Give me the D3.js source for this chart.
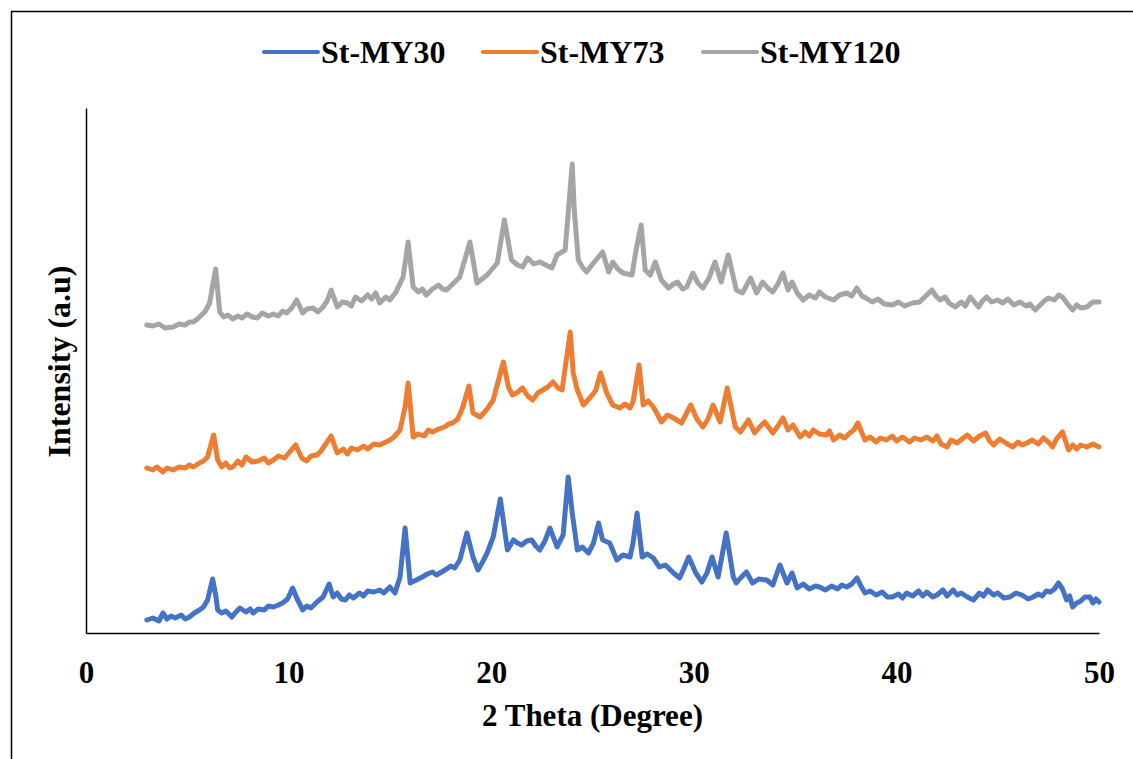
<!DOCTYPE html>
<html>
<head>
<meta charset="utf-8">
<script src="https://cdn.jsdelivr.net/npm/d3@7"></script>
<style>
  body { margin: 0; background: #fff; }
  text { font-family: "Liberation Serif", "Times New Roman", serif; font-weight: bold; }
</style>
</head>
<body>
<svg id="grafica"></svg>
<script>
// Difractogramas XRD de tres muestras (unidades arbitrarias)

const svg_w = 1133;
const svg_h = 759;
const margin = {l:86, r:34, t:108, b:126};
const viz_w = svg_w - margin.l - margin.r;
const viz_h = svg_h - margin.t - margin.b;

const series_names = ["St-MY30", "St-MY73", "St-MY120"];
const series_colors = ["#4472C4", "#ED7D31", "#A5A5A5"];
const x_ticks = [0, 10, 20, 30, 40, 50];

// [2theta, intensidad]
const st_my30 = [
  [3.0,13],[3.3,15],[3.6,12],[3.8,20],[4.0,14],[4.2,17],[4.4,15],[4.7,18],[4.9,14],[5.1,16],
  [5.35,20],[5.6,23],[5.8,26],[6.0,33],[6.25,54],[6.4,38],[6.5,23],[6.7,20],[6.9,22],[7.2,16],
  [7.4,21],[7.6,25],[7.9,21],[8.1,24],[8.25,20],[8.5,24],[8.8,23],[9.0,27],[9.25,26],[9.5,28],
  [9.7,30],[9.95,34],[10.2,45],[10.4,35],[10.7,23],[10.9,27],[11.1,25],[11.4,31],[11.7,36],[12.0,49],
  [12.2,36],[12.4,40],[12.6,34],[12.8,33],[13.0,38],[13.2,35],[13.5,40],[13.7,37],[13.9,42],[14.2,41],
  [14.5,43],[14.7,40],[15.0,46],[15.25,40],[15.5,56],[15.75,105],[16.0,50],[16.3,53],[16.6,56],[16.85,59],
  [17.1,61],[17.3,58],[17.55,61],[17.8,64],[18.0,67],[18.2,65],[18.45,73],[18.8,100],[19.1,76],[19.35,63],
  [19.6,72],[19.8,80],[20.1,96],[20.45,134],[20.8,83],[21.1,93],[21.3,90],[21.5,88],[21.75,92],[22.0,93],
  [22.2,87],[22.4,83],[22.65,92],[22.9,105],[23.25,86],[23.55,98],[23.8,156],[24.0,120],[24.25,83],[24.5,86],
  [24.8,80],[25.05,90],[25.3,110],[25.5,93],[25.85,90],[26.2,73],[26.5,78],[26.85,76],[27.0,90],[27.2,120],
  [27.45,76],[27.7,79],[28.0,75],[28.3,66],[28.6,68],[29.0,60],[29.3,55],[29.5,64],[29.75,76],[30.1,60],
  [30.4,51],[30.65,60],[30.9,76],[31.2,56],[31.6,100],[31.95,56],[32.1,50],[32.35,56],[32.6,61],[32.9,50],
  [33.2,54],[33.6,53],[33.9,48],[34.25,68],[34.6,50],[34.85,60],[35.1,45],[35.4,49],[35.7,44],[36.0,47],
  [36.2,46],[36.5,43],[36.8,47],[37.1,44],[37.3,48],[37.55,46],[37.8,49],[38.05,55],[38.25,47],[38.45,40],
  [38.7,42],[39.0,38],[39.3,41],[39.55,36],[39.8,36],[40.1,39],[40.3,35],[40.5,40],[40.8,37],[41.1,42],
  [41.3,37],[41.5,41],[41.8,36],[42.0,38],[42.3,43],[42.5,37],[42.8,43],[43.0,38],[43.2,40],[43.5,36],
  [43.8,33],[44.1,40],[44.3,37],[44.5,43],[44.8,38],[45.0,40],[45.3,35],[45.6,36],[45.9,40],[46.2,38],
  [46.5,34],[46.75,36],[47.0,39],[47.2,37],[47.4,42],[47.6,41],[47.8,44],[48.0,50],[48.2,44],[48.4,33],
  [48.55,37],[48.7,26],[48.9,30],[49.1,32],[49.3,36],[49.55,36],[49.7,30],[49.85,34],[50.0,31]
];

const st_my73 = [
  [3.0,165],[3.3,163],[3.5,166],[3.8,161],[4.0,165],[4.3,163],[4.6,166],[4.9,165],[5.1,168],[5.3,166],
  [5.6,170],[5.8,172],[6.0,176],[6.3,198],[6.5,173],[6.7,166],[6.9,170],[7.1,165],[7.25,166],[7.5,172],
  [7.7,168],[7.9,176],[8.2,171],[8.5,172],[8.8,175],[9.0,170],[9.25,173],[9.5,177],[9.8,175],[10.05,181],
  [10.35,188],[10.65,175],[10.9,172],[11.1,177],[11.4,178],[11.6,182],[11.8,188],[12.1,197],[12.4,180],[12.7,184],
  [12.9,179],[13.1,185],[13.4,183],[13.7,187],[13.9,184],[14.2,189],[14.5,188],[14.8,191],[15.0,193],[15.2,196],
  [15.5,203],[15.75,226],[15.9,250],[16.15,196],[16.4,199],[16.7,197],[16.9,203],[17.1,201],[17.4,204],[17.7,206],
  [17.9,209],[18.1,210],[18.35,214],[18.6,226],[18.9,247],[19.1,220],[19.45,216],[19.8,224],[20.1,233],[20.6,271],
  [20.85,246],[21.05,238],[21.25,240],[21.55,245],[21.8,237],[22.05,233],[22.3,240],[22.55,243],[22.8,246],[23.05,251],
  [23.3,245],[23.5,243],[23.9,301],[24.05,260],[24.25,243],[24.55,228],[24.9,236],[25.15,242],[25.4,260],[25.7,240],
  [26.0,228],[26.35,225],[26.6,229],[26.85,225],[27.0,231],[27.3,268],[27.5,228],[27.75,232],[28.0,226],[28.2,219],
  [28.4,211],[28.7,218],[29.0,215],[29.4,210],[29.85,228],[30.15,214],[30.45,206],[30.7,214],[30.95,228],[31.3,211],
  [31.65,245],[32.05,206],[32.3,201],[32.7,213],[33.0,200],[33.25,206],[33.5,211],[33.9,200],[34.15,207],[34.4,215],
  [34.65,203],[34.9,208],[35.25,196],[35.5,201],[35.7,197],[35.9,203],[36.2,199],[36.55,198],[36.7,202],[36.9,193],
  [37.2,198],[37.45,195],[37.7,200],[37.9,203],[38.1,210],[38.3,200],[38.45,193],[38.7,196],[39.0,191],[39.2,195],
  [39.5,193],[39.8,197],[40.0,192],[40.3,196],[40.65,191],[40.9,195],[41.2,193],[41.5,196],[41.8,192],[42.0,197],
  [42.2,189],[42.5,186],[42.7,193],[43.0,190],[43.3,195],[43.5,198],[43.8,192],[44.1,197],[44.4,200],[44.6,192],
  [44.8,188],[45.1,194],[45.4,190],[45.75,186],[46.0,191],[46.2,188],[46.45,190],[46.7,193],[47.0,189],[47.25,195],
  [47.5,191],[47.7,186],[47.9,194],[48.2,201],[48.35,192],[48.5,183],[48.7,188],[48.9,184],[49.1,188],[49.4,186],
  [49.7,189],[50.0,186]
];

const st_my120 = [
  [3.0,308],[3.3,307],[3.6,309],[3.9,305],[4.3,306],[4.6,309],[4.9,308],[5.1,311],[5.3,311],[5.5,314],
  [5.7,318],[5.9,322],[6.1,330],[6.4,364],[6.6,321],[6.8,316],[7.0,318],[7.25,314],[7.5,317],[7.7,315],
  [7.95,319],[8.2,316],[8.45,315],[8.7,320],[9.0,317],[9.25,319],[9.5,317],[9.7,322],[9.9,320],[10.15,325],
  [10.4,333],[10.7,320],[10.9,324],[11.2,325],[11.45,321],[11.7,326],[11.9,332],[12.1,343],[12.4,326],[12.65,331],
  [12.9,330],[13.1,327],[13.3,336],[13.6,332],[13.9,338],[14.1,334],[14.3,340],[14.5,330],[14.8,336],[15.0,333],
  [15.3,341],[15.65,356],[15.9,391],[16.15,346],[16.4,341],[16.6,344],[16.8,338],[17.1,344],[17.4,348],[17.6,344],
  [17.8,343],[18.1,349],[18.45,356],[18.95,391],[19.3,350],[19.55,354],[19.8,358],[20.3,370],[20.65,413],[21.0,373],
  [21.3,368],[21.55,366],[21.8,375],[22.1,369],[22.4,371],[22.7,368],[23.0,365],[23.25,378],[23.65,383],[24.0,469],
  [24.1,423],[24.3,373],[24.5,366],[24.7,361],[25.05,370],[25.5,381],[25.8,361],[26.0,371],[26.25,364],[26.5,360],
  [26.95,358],[27.15,383],[27.4,408],[27.6,363],[27.85,358],[28.1,371],[28.4,353],[28.75,345],[29.0,349],[29.2,351],
  [29.45,344],[29.65,346],[29.95,360],[30.2,350],[30.45,345],[30.75,355],[31.05,371],[31.35,351],[31.7,378],[32.1,343],
  [32.4,340],[32.8,355],[33.1,340],[33.4,351],[33.65,345],[33.9,341],[34.15,349],[34.4,360],[34.65,343],[34.85,351],
  [35.1,340],[35.4,333],[35.7,338],[36.0,335],[36.2,341],[36.5,336],[36.9,333],[37.2,338],[37.55,340],[37.8,337],
  [38.05,345],[38.3,337],[38.5,335],[38.8,331],[39.1,334],[39.4,329],[39.8,328],[40.1,331],[40.4,327],[40.8,330],
  [41.15,331],[41.4,336],[41.75,343],[41.95,337],[42.15,333],[42.4,336],[42.6,330],[42.9,326],[43.2,331],[43.4,327],
  [43.65,336],[43.85,331],[44.05,326],[44.25,332],[44.45,336],[44.7,331],[45.0,333],[45.25,330],[45.5,334],[45.8,328],
  [46.1,331],[46.4,327],[46.6,329],[46.85,323],[47.1,328],[47.3,332],[47.5,335],[47.8,333],[48.0,338],[48.2,336],
  [48.45,329],[48.7,323],[48.9,328],[49.1,325],[49.4,326],[49.7,331],[50.0,331]
];

const all_series = [st_my30, st_my73, st_my120];

let svg = d3.select("#grafica")
  .attr("width", svg_w)
  .attr("height", svg_h)

// marco exterior
svg.append("rect")
  .attr("x", 11.5)
  .attr("y", 11.5)
  .attr("width", 1200)
  .attr("height", 800)
  .attr("fill", "none")
  .attr("stroke", "black")
  .attr("stroke-width", 1.5)

let x_scale = d3.scaleLinear()
  .domain([0, 50])
  .range([0, viz_w])

let y_scale = d3.scaleLinear()
  .domain([0, 525])
  .range([viz_h, 0])

let x_axis = svg.append("g")
  .attr("transform", `translate(${margin.l},${margin.t + viz_h})`)
  .call(d3.axisBottom(x_scale).tickValues(x_ticks).tickSize(0).tickPadding(28))
x_axis.select(".domain").attr("stroke", "black").attr("stroke-width", 1.5)
x_axis.selectAll("text")
  .attr("font-size", 31)
  .attr("font-family", "Liberation Serif, serif")
  .attr("font-weight", "bold")
  .attr("fill", "black")

let y_axis = svg.append("g")
  .attr("transform", `translate(${margin.l},${margin.t})`)
  .call(d3.axisLeft(y_scale).tickValues([]).tickSizeOuter(0))
y_axis.select(".domain").attr("stroke", "black").attr("stroke-width", 1.5)

let line = d3.line()
  .x(d => x_scale(d[0]))
  .y(d => y_scale(d[1]))

svg.append("g")
  .attr("transform", `translate(${margin.l},${margin.t})`)
  .selectAll("path")
  .data(all_series)
  .enter().append("path")
  .attr("d", d => line(d))
  .attr("fill", "none")
  .attr("stroke", (d, i) => series_colors[i])
  .attr("stroke-width", 5)
  .attr("stroke-linejoin", "round")
  .attr("stroke-linecap", "round")

// títulos de los ejes
svg.append("text")
  .attr("x", margin.l + viz_w / 2)
  .attr("y", 726)
  .attr("text-anchor", "middle")
  .attr("font-size", 31)
  .text("2 Theta (Degree)")

svg.append("text")
  .attr("transform", `translate(70,${margin.t + viz_h / 2 - 9}) rotate(-90)`)
  .attr("text-anchor", "middle")
  .attr("font-size", 32)
  .text("Intensity (a.u)")

// leyenda
const legend_x = [264, 483, 703];
let legend = svg.append("g")
  .selectAll("g")
  .data(series_names)
  .enter().append("g")
  .attr("transform", (d, i) => `translate(${legend_x[i]},52)`)

legend.append("line")
  .attr("x1", 0)
  .attr("x2", 54)
  .attr("stroke", (d, i) => series_colors[i])
  .attr("stroke-width", 4)
  .attr("stroke-linecap", "round")

legend.append("text")
  .attr("x", 57)
  .attr("y", 10.5)
  .attr("font-size", 32)
  .text(d => d)
</script>
</body>
</html>
